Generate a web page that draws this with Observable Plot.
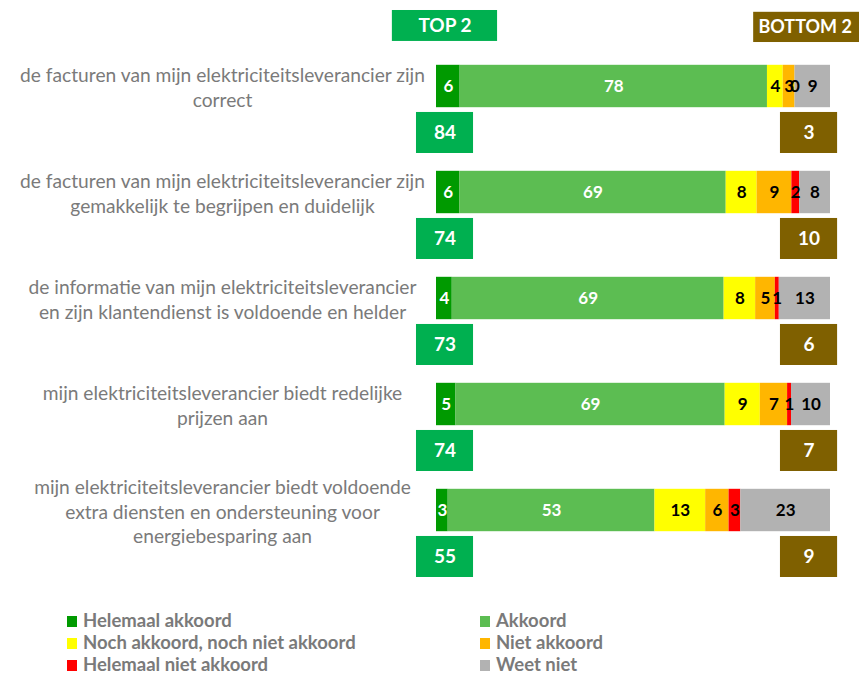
<!DOCTYPE html>
<html>
<head>
<meta charset="utf-8">
<script src="https://cdn.jsdelivr.net/npm/d3@7"></script>
<script src="https://cdn.jsdelivr.net/npm/@observablehq/plot@0.6"></script>
<style>
  body { margin: 0; background: #fff; overflow: hidden; }
  #wrap { width: 859px; }
  .legend { display: grid; grid-template-columns: 413px 300px; padding-left: 67px; margin-top: 4px;
    font-family: Lato, "Liberation Sans", sans-serif; font-weight: bold; font-size: 18.5px; color: #7a7a7a; line-height: 22px; }
  .legend span.sw { display: inline-block; width: 10px; height: 11px; margin-right: 6px; vertical-align: 0px; }
</style>
</head>
<body>
<div id="wrap"></div>
<script>
// ---- data ----
const statements = [
  "de facturen van mijn elektriciteitsleverancier zijn\ncorrect",
  "de facturen van mijn elektriciteitsleverancier zijn\ngemakkelijk te begrijpen en duidelijk",
  "de informatie van mijn elektriciteitsleverancier\nen zijn klantendienst is voldoende en helder",
  "mijn elektriciteitsleverancier biedt redelijke\nprijzen aan",
  "mijn elektriciteitsleverancier biedt voldoende\nextra diensten en ondersteuning voor\nenergiebesparing aan"
];
const categories = ["Helemaal akkoord", "Akkoord", "Noch akkoord, noch niet akkoord", "Niet akkoord", "Helemaal niet akkoord", "Weet niet"];
const colors = ["#009a00", "#5cbd52", "#ffff00", "#ffb600", "#ff0000", "#b2b2b2"];
const helemaalAkkoord = [6, 6, 4, 5, 3];
const akkoord = [78, 69, 69, 69, 53];
const noch = [4, 8, 8, 9, 13];
const nietAkkoord = [3, 9, 5, 7, 6];
const helemaalNietAkkoord = [0, 2, 1, 1, 3];
const weetNiet = [9, 8, 13, 10, 23];
const top2 = [84, 74, 73, 74, 55];
const bottom2 = [3, 10, 6, 7, 9];
const headerLabels = ["TOP 2", "BOTTOM 2"];

const series = [helemaalAkkoord, akkoord, noch, nietAkkoord, helemaalNietAkkoord, weetNiet];
const rows = statements.flatMap((s, i) => categories.map((c, k) => ({row: i, cat: c, k, value: series[k][i]})));
const summary = statements.map((s, i) => ({row: i, label: s, top: top2[i], bottom: bottom2[i]}));

const font = "Lato, 'Liberation Sans', sans-serif";
const barHalf = 0.2;
const boxTop = 0.245, boxBot = 0.632;

const stackOpts = (extra) => Plot.stackX({offset: "normalize", order: null},
  {x: "value", y1: d => d.row - barHalf, y2: d => d.row + barHalf, z: "cat", ...extra});

const chart = Plot.plot({
  width: 859,
  height: 605,
  marginLeft: 436,
  marginRight: 29,
  marginTop: 0,
  marginBottom: 0,
  x: {domain: [0, 1], axis: null},
  y: {domain: [0, 4], range: [86, 510], axis: null},
  color: {domain: categories, range: colors},
  style: {fontFamily: font, background: "#fff"},
  marks: [
    // header boxes
    Plot.rect([headerLabels[0]], {x1: -0.112, x2: 0.155, y1: -0.717, y2: -0.425, fill: "#00b050"}),
    Plot.rect([headerLabels[1]], {x1: 0.805, x2: 1.12, y1: -0.70, y2: -0.415, fill: "#7f6000"}),
    Plot.text([headerLabels[0]], {x: 0.0215, y: -0.571, text: d => d, fill: "#fff", fontWeight: "bold", fontSize: 19}),
    Plot.text([headerLabels[1]], {x: 0.817, y: -0.557, text: d => d, fill: "#fff", fontWeight: "bold", fontSize: 18, textAnchor: "start"}),
    // statements
    Plot.text(summary, {y: "row", text: "label", frameAnchor: "left", dx: -214, textAnchor: "middle", lineAnchor: "middle",
      lineHeight: 1.3, fontSize: 19.2, fill: "#7a7a7a"}),
    // stacked bars
    Plot.rectX(rows, stackOpts({fill: "cat"})),
    Plot.text(rows, Plot.stackX({offset: "normalize", order: null},
      {x: "value", y: "row", z: "cat", text: "value", fill: d => d.k < 2 ? "#fff" : "#000", fontWeight: "bold", fontSize: 17})),
    // top2 / bottom2 boxes
    Plot.rect(summary, {x1: -0.0508, x2: 0.094, y1: d => d.row + boxTop, y2: d => d.row + boxBot, fill: "#00b050"}),
    Plot.text(summary, {x: 0.0216, y: d => d.row + (boxTop + boxBot) / 2, text: "top", fill: "#fff", fontWeight: "bold", fontSize: 19}),
    Plot.rect(summary, {x1: 0.873, x2: 1.018, y1: d => d.row + boxTop, y2: d => d.row + boxBot, fill: "#7f6000"}),
    Plot.text(summary, {x: 0.9455, y: d => d.row + (boxTop + boxBot) / 2, text: "bottom", fill: "#fff", fontWeight: "bold", fontSize: 19})
  ]
});

const wrap = document.getElementById("wrap");
wrap.appendChild(chart);

const legend = document.createElement("div");
legend.className = "legend";
categories.forEach((c, k) => {
  const item = document.createElement("div");
  const sw = document.createElement("span");
  sw.className = "sw";
  sw.style.background = colors[k];
  item.appendChild(sw);
  item.appendChild(document.createTextNode(c));
  legend.appendChild(item);
});
wrap.appendChild(legend);
</script>
</body>
</html>
